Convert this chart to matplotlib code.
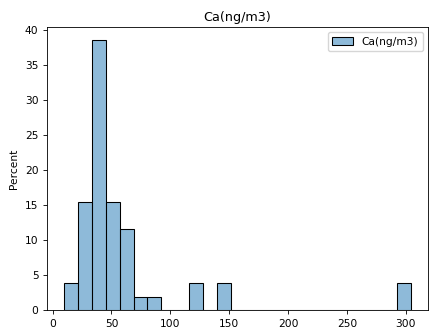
import numpy as np
import matplotlib
matplotlib.use("Agg")
import matplotlib.pyplot as plt

# Histogram of Ca concentration: 25 equal-width bins between the data min and max
label = "Ca(ng/m3)"
data_min, data_max = 10.0, 304.0
n_bins = 25
# sample counts per bin (52 samples in total)
bin_counts = [2, 8, 20, 8, 6, 1, 1, 0, 0, 2, 0, 2, 0,
              0, 0, 0, 0, 0, 0, 0, 0, 0, 0, 0, 2]

edges = np.linspace(data_min, data_max, n_bins + 1)
centers = (edges[:-1] + edges[1:]) / 2
percent = np.array(bin_counts) / sum(bin_counts) * 100

s = 0.767
plt.rcParams.update({
    "font.size": 10 * s,
    "axes.linewidth": 0.8 * s,
    "xtick.major.width": 0.8 * s,
    "ytick.major.width": 0.8 * s,
    "xtick.major.size": 3.5 * s,
    "ytick.major.size": 3.5 * s,
})

fig = plt.figure(figsize=(4.31, 3.32), dpi=100)
ax = fig.add_axes([47 / 431, 22 / 332, 381 / 431, 283 / 332])

ax.hist(centers, bins=edges, weights=percent, facecolor=(0.122, 0.467, 0.706, 0.5),
        edgecolor="black", linewidth=1.0 * s, label=label)

ax.set_xticks(np.arange(0, 301, 50))
ax.set_yticks(np.arange(0, 41, 5))
ax.set_ylabel("Percent", fontsize=10 * s)
ax.set_title(label, fontsize=12 * s, pad=6 * s)
ax.legend(loc="upper right", fontsize=10 * s, handlelength=2.0, borderpad=0.4)

fig.savefig("out.png", dpi=100)
